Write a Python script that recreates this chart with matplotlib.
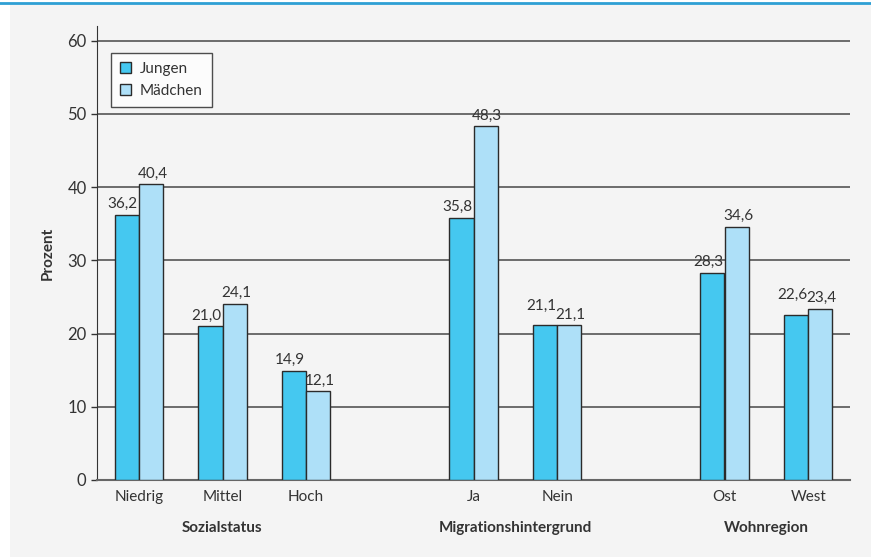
import matplotlib.pyplot as plt
import numpy as np
from matplotlib.patches import Rectangle
from matplotlib.lines import Line2D

# ---- Data ----
categories = ["Niedrig", "Mittel", "Hoch", "Ja", "Nein", "Ost", "West"]
positions = [0, 1, 2, 4, 5, 7, 8]
jungen = [36.2, 21.0, 14.9, 35.8, 21.1, 28.3, 22.6]
maedchen = [40.4, 24.1, 12.1, 48.3, 21.1, 34.6, 23.4]
groups = ["Sozialstatus", "Migrationshintergrund", "Wohnregion"]
group_centers = [1, 4.5, 7.5]

plt.rcParams['font.family'] = ['Lato', 'DejaVu Sans']

c_jungen = '#45c8f0'
c_maedchen = '#aee0f8'
edge = '#2b2b2b'
txt = '#333333'

fig = plt.figure(figsize=(8.71, 5.57), dpi=100)
fig.patch.set_facecolor('white')

# background panel and top blue line
fig.add_artist(Rectangle((10/871, 0), 1, 1 - 4/557, transform=fig.transFigure,
                         facecolor='#f4f4f4', edgecolor='none', zorder=-10))
fig.add_artist(Line2D([0, 1], [1 - 2.5/557, 1 - 2.5/557], transform=fig.transFigure,
                      color='#2e9fd4', linewidth=2))

ax = fig.add_axes([97/871, 1 - 480/557, (850 - 97)/871, (480 - 26)/557])
ax.set_facecolor('none')

w = 0.287
x = np.array(positions, dtype=float)
ax.bar(x - w/2, jungen, w, color=c_jungen, edgecolor=edge, linewidth=1, label='Jungen', zorder=3)
ax.bar(x + w/2, maedchen, w, color=c_maedchen, edgecolor=edge, linewidth=1, label='Mädchen', zorder=3)

# value labels; when both bars are (nearly) equal, lift the left label to avoid overlap
for xi, vj, vm in zip(x, jungen, maedchen):
    lift = 1.2 if abs(vj - vm) < 1.0 else 0.0
    ax.text(xi - w/2 - 0.05, vj + 0.5 + lift, f"{vj:.1f}".replace('.', ','),
            ha='center', va='bottom', fontsize=11, color=txt)
    ax.text(xi + w/2 + 0.02, vm + 0.5, f"{vm:.1f}".replace('.', ','),
            ha='center', va='bottom', fontsize=11, color=txt)

ax.set_xlim(-0.5, 8.5)
ax.set_ylim(0, 62)
ax.set_yticks(range(0, 61, 10))
ax.yaxis.grid(True, color='#555555', linewidth=1.2, zorder=0)
ax.set_axisbelow(True)

ax.set_xticks(x)
ax.set_xticklabels(categories)
ax.tick_params(axis='x', length=0, pad=7, labelsize=11, labelcolor=txt)
ax.tick_params(axis='y', length=4, width=1, color='#333333', labelsize=12, labelcolor=txt)

for s in ['top', 'right']:
    ax.spines[s].set_visible(False)
ax.spines['left'].set_color('#333333')
ax.spines['bottom'].set_color('#666666')
ax.spines['bottom'].set_linewidth(1.5)

for g, gc in zip(groups, group_centers):
    ax.text(gc, -6.6, g, ha='center', va='center', fontsize=11, fontweight='bold',
            color=txt, transform=ax.transData)

ax.set_ylabel("Prozent", fontsize=11, fontweight='bold', color=txt, labelpad=9)

leg = ax.legend(loc='upper left', bbox_to_anchor=(0.008, 0.958), fontsize=11,
                frameon=True, fancybox=False, handlelength=0.7, handleheight=0.7,
                handletextpad=0.6, borderpad=0.6, labelspacing=0.5)
leg.get_frame().set_edgecolor('#222222')
leg.get_frame().set_facecolor('white')
leg.get_frame().set_linewidth(1)
for t in leg.get_texts():
    t.set_color(txt)

fig.savefig('out.png', dpi=100, facecolor=fig.get_facecolor())
